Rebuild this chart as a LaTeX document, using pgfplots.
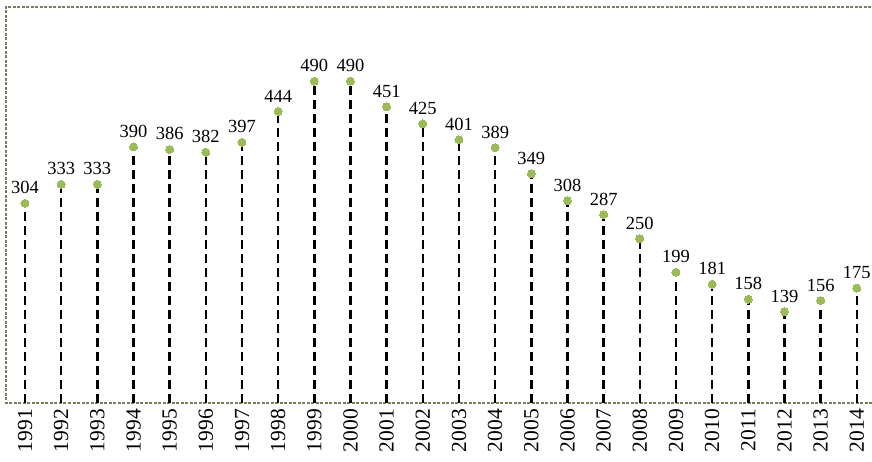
\documentclass[border=0pt]{standalone}
\usepackage{fontspec}
\setmainfont{Liberation Serif}
\usepackage{pgfplots}
\pgfplotsset{compat=1.18}
\definecolor{boxc}{RGB}{125,125,95}
\definecolor{dotc}{RGB}{155,187,89}
\begin{document}
\begin{tikzpicture}
\useasboundingbox (-6pt,-59pt) rectangle (866pt,403pt);
\begin{axis}[
  at={(0,0)}, anchor=south west,
  scale only axis,
  width=866pt, height=396pt,
  xmin=-0.525, xmax=23.42,
  ymin=0, ymax=603,
  axis line style={draw=none},
  ytick=\empty,
  xtick={0,...,23},
  xticklabels={1991,1992,1993,1994,1995,1996,1997,1998,1999,2000,2001,2002,2003,2004,2005,2006,2007,2008,2009,2010,2011,2012,2013,2014},
  major tick length=0pt,
  x tick label style={rotate=90, anchor=east, font=\fontsize{21.5}{21.5}\selectfont, inner sep=1pt},
  xticklabel shift=5pt,
  /pgf/number format/assume math mode=true,
  clip=false,
]
\draw[boxc, line width=1.2pt, dash pattern=on 3pt off 1.5pt] (rel axis cs:1,0) -- (rel axis cs:0,0) -- (rel axis cs:0,1) -- (rel axis cs:1,1);
\addplot[ycomb, black, line width=2.5pt, dash pattern=on 9pt off 5pt, no marks] coordinates {
(0,304)(1,333)(2,333)(3,390)(4,386)(5,382)(6,397)(7,444)(8,490)(9,490)(10,451)(11,425)(12,401)(13,389)(14,349)(15,308)(16,287)(17,250)(18,199)(19,181)(20,158)(21,139)(22,156)(23,175)
};
\addplot[only marks, mark=*, mark size=4pt, mark options={draw=dotc, fill=dotc, line width=0pt},
  nodes near coords, point meta=explicit symbolic,
  every node near coord/.append style={font=\fontsize{18.5}{18.5}\selectfont, anchor=south, yshift=6pt, text=black}] coordinates {
(0,304)[304](1,333)[333](2,333)[333](3,390)[390](4,386)[386](5,382)[382](6,397)[397](7,444)[444](8,490)[490](9,490)[490](10,451)[451](11,425)[425](12,401)[401](13,389)[389](14,349)[349](15,308)[308](16,287)[287](17,250)[250](18,199)[199](19,181)[181](20,158)[158](21,139)[139](22,156)[156](23,175)[175]
};
\end{axis}
\end{tikzpicture}
\end{document}
